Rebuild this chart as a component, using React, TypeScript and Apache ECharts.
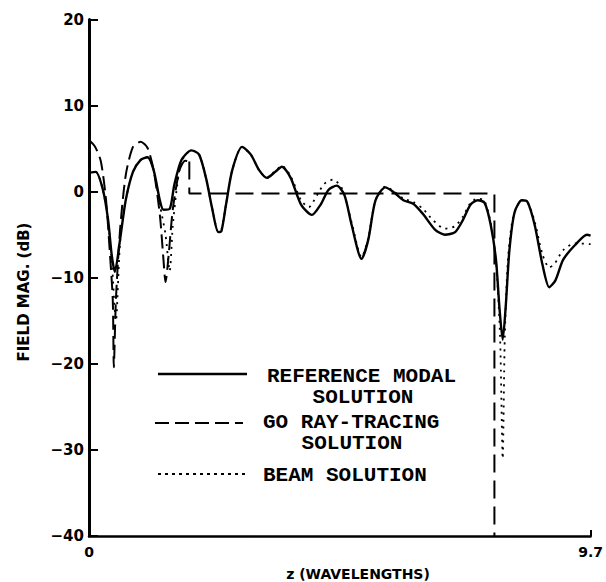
import React, { useEffect, useRef } from "react";
import * as echarts from "echarts";

// Field magnitude (dB) versus distance z (wavelengths)

// Reference modal solution: [z, dB]
const modalSolution: [number, number][] = [
  [0, 2.2], [0.13, 2.3], [0.27, 0.2], [0.37, -3.3], [0.44, -7.4], [0.5, -9.3],
  [0.6, -5.6], [0.71, -1.0], [0.85, 2.3], [1.0, 3.7], [1.13, 4.0], [1.25, 2.5],
  [1.37, -1.0], [1.44, -2.1], [1.56, -2.0], [1.65, 0.8], [1.79, 3.7], [1.98, 4.8],
  [2.13, 4.3], [2.27, 1.4], [2.38, -1.9], [2.5, -4.7], [2.56, -4.6], [2.65, -1.5],
  [2.77, 2.5], [2.96, 5.2], [3.13, 4.3], [3.29, 2.5], [3.44, 1.6], [3.6, 2.3],
  [3.73, 2.9], [3.9, 1.6], [4.1, -1.5], [4.31, -2.7], [4.48, -1.5], [4.63, 0.2],
  [4.79, 0.7], [4.94, -0.4], [5.08, -3.9], [5.27, -7.8], [5.4, -5.6], [5.54, -1.0],
  [5.73, 0.5], [5.88, 0.0], [6.08, -1.0], [6.27, -1.4], [6.46, -2.6], [6.69, -4.4],
  [6.88, -5.0], [7.08, -4.7], [7.23, -3.3], [7.38, -1.5], [7.52, -1.0], [7.65, -1.3],
  [7.77, -3.9], [7.87, -7.9], [7.94, -13.7], [8.0, -17.2], [8.06, -13.2], [8.13, -6.8],
  [8.23, -2.4], [8.37, -1.0], [8.48, -1.2], [8.62, -3.9], [8.77, -8.5], [8.9, -11.1],
  [9.02, -10.3], [9.17, -7.9], [9.4, -6.2], [9.63, -5.0], [9.7, -5.1],
];

// GO ray-tracing solution, two-ray interference region
const goInterference: [number, number][] = [
  [0, 6.0], [0.12, 5.2], [0.23, 3.5], [0.33, -1.0], [0.4, -6.8], [0.46, -12.6],
  [0.48, -20.4], [0.52, -12.6], [0.6, -4.5], [0.71, 1.9], [0.85, 5.2], [1.0, 5.8],
  [1.13, 5.1], [1.25, 2.5], [1.37, -2.7], [1.44, -7.9], [1.48, -10.5], [1.54, -7.4],
  [1.62, -2.1], [1.75, 2.5], [1.86, 3.6], [1.94, 3.5],
];

// GO ray-tracing solution, single-ray region and shadow boundary
const goShadow: [number, number][] = [
  [1.94, 3.5], [1.94, -0.2], [7.84, -0.2], [7.84, -40],
];

// Beam solution
const beamSolution: [number, number][] = [
  [0, 2.2], [0.13, 2.3], [0.27, 0.2], [0.37, -3.5], [0.44, -8], [0.52, -15],
  [0.6, -6], [0.71, -1.0], [0.85, 2.3], [1.0, 3.7], [1.13, 4.0], [1.25, 2.5],
  [1.37, -1.5], [1.48, -5], [1.56, -9.2], [1.62, -4], [1.7, 0.5], [1.79, 3.5],
  [1.98, 4.8], [2.13, 4.3], [2.27, 1.4], [2.38, -1.9], [2.5, -4.6], [2.56, -4.4],
  [2.65, -1.5], [2.77, 2.5], [2.96, 5.2], [3.13, 4.3], [3.29, 2.5], [3.44, 1.6],
  [3.6, 2.4], [3.73, 3.0], [3.9, 1.8], [4.1, -1.0], [4.25, -1.8], [4.4, -0.5],
  [4.55, 0.9], [4.72, 1.4], [4.9, 0.3], [5.08, -3.6], [5.27, -7.6], [5.4, -5.4],
  [5.54, -1.0], [5.73, 0.6], [5.88, 0.1], [6.08, -0.8], [6.27, -1.2], [6.46, -2.0],
  [6.65, -3.3], [6.88, -4.3], [7.08, -4.0], [7.23, -2.9], [7.38, -1.3], [7.52, -0.8],
  [7.65, -1.1], [7.77, -3.7], [7.87, -8], [7.95, -17], [8.0, -31], [8.04, -17],
  [8.1, -8], [8.2, -3], [8.37, -1.0], [8.48, -1.2], [8.62, -3.5], [8.77, -7.3],
  [8.9, -8.8], [9.0, -8.4], [9.17, -6.8], [9.4, -6.0], [9.7, -6.1],
];

const Z_MAX = 9.7;
const DB_MIN = -40;
const DB_MAX = 20;
const DB_STEP = 10;

const legendItems = [
  { lines: ["REFERENCE MODAL", "SOLUTION"], dash: null as number[] | null },
  { lines: ["GO RAY-TRACING", "SOLUTION"], dash: [14, 6] },
  { lines: ["BEAM SOLUTION"], dash: [3, 4] },
];

const SANS = '"DejaVu Sans", Verdana, sans-serif';
const MONO = '"Liberation Mono", "DejaVu Sans Mono", monospace';

export default function App() {
  const ref = useRef<HTMLDivElement>(null);

  useEffect(() => {
    if (!ref.current) return;
    const chart = echarts.init(ref.current, null, { renderer: "svg" });

    const lineBase = { type: "line", showSymbol: false, silent: true };

    // legend drawn as line samples + typewriter text
    const legendGraphic: any[] = [];
    const rows = [
      { y: 374, sx1: 158, sx2: 247, tx: 267, ty: [376, 397], cx: 363 },
      { y: 423, sx1: 155, sx2: 243, tx: 263, ty: [422, 443], cx: 352 },
      { y: 474, sx1: 158, sx2: 248, tx: 263, ty: [475], cx: 0 },
    ];
    legendItems.forEach((item, i) => {
      const r = rows[i];
      legendGraphic.push({
        type: "line",
        shape: { x1: r.sx1, y1: r.y, x2: r.sx2, y2: r.y },
        style: {
          stroke: "#000",
          lineWidth: item.dash ? 2.2 : 2.4,
          lineDash: item.dash || undefined,
        },
      });
      item.lines.forEach((t, j) => {
        legendGraphic.push({
          type: "text",
          x: j === 0 ? r.tx : r.cx,
          y: r.ty[j],
          style: {
            text: t,
            font: `bold 21px ${MONO}`,
            lineHeight: 17,
            fill: "#000",
            textAlign: j === 0 ? "left" : "center",
            textVerticalAlign: "middle",
          },
        });
      });
    });

    chart.setOption({
      animation: false,
      backgroundColor: "#fff",
      grid: { left: 89, right: 13, top: 19.5, bottom: 46, containLabel: false },
      xAxis: {
        type: "value",
        min: 0,
        max: Z_MAX,
        interval: Z_MAX,
        splitLine: { show: false },
        axisLine: { onZero: false, lineStyle: { color: "#000", width: 2.5 } },
        axisTick: { inside: true, length: 6, lineStyle: { color: "#000", width: 2 } },
        axisLabel: {
          margin: 9,
          color: "#000",
          fontFamily: SANS,
          fontWeight: "bold",
          fontSize: 14,
          formatter: (v: number) => String(v),
        },
      },
      yAxis: {
        type: "value",
        min: DB_MIN,
        max: DB_MAX,
        interval: DB_STEP,
        splitLine: { show: false },
        axisLine: { onZero: false, lineStyle: { color: "#000", width: 3 } },
        axisTick: { inside: true, length: 9, lineStyle: { color: "#000", width: 2 } },
        axisLabel: {
          margin: 5,
          color: "#000",
          fontFamily: SANS,
          fontWeight: "bold",
          fontSize: 15,
          formatter: (v: number) => String(v).replace("-", "\u2212"),
        },
      },
      graphic: [
        {
          type: "text",
          x: 24,
          y: 292,
          rotation: Math.PI / 2,
          style: {
            text: "FIELD MAG. (dB)",
            font: `bold 15px ${SANS}`,
            fill: "#000",
            textAlign: "center",
            textVerticalAlign: "middle",
          },
        },
        {
          type: "text",
          x: 358,
          y: 574,
          style: {
            text: "z (WAVELENGTHS)",
            font: `bold 14px ${SANS}`,
            fill: "#000",
            textAlign: "center",
            textVerticalAlign: "middle",
          },
        },
        ...legendGraphic,
      ],
      series: [
        {
          ...lineBase,
          name: "BEAM SOLUTION",
          data: beamSolution,
          smooth: 0.25,
          lineStyle: { color: "#000", width: 1.8, type: [2, 5] },
          z: 1,
        },
        {
          ...lineBase,
          name: "GO RAY-TRACING SOLUTION",
          data: goInterference,
          smooth: 0.25,
          lineStyle: { color: "#000", width: 2, type: [14, 6] },
          z: 2,
        },
        {
          ...lineBase,
          name: "GO RAY-TRACING SOLUTION (shadow)",
          data: goShadow,
          smooth: false,
          lineStyle: { color: "#000", width: 2, type: [18, 8] },
          z: 2,
        },
        {
          ...lineBase,
          name: "REFERENCE MODAL SOLUTION",
          data: modalSolution,
          smooth: 0.25,
          lineStyle: { color: "#000", width: 2.4 },
          z: 3,
        },
      ],
    });

    return () => chart.dispose();
  }, []);

  return (
    <div
      ref={ref}
      style={{ position: "absolute", left: 0, top: 0, width: 606, height: 582 }}
    />
  );
}
